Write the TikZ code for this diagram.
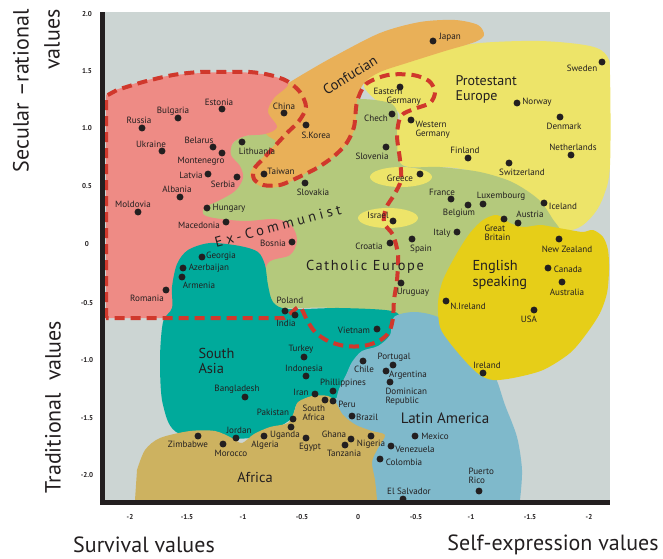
\documentclass[tikz,border=0pt]{standalone}
\usepackage{fontspec}
\setmainfont{PT Sans}
\usetikzlibrary{positioning}

\definecolor{bggray}{RGB}{204,213,211}
\definecolor{expink}{RGB}{238,139,133}
\definecolor{confor}{RGB}{233,176,88}
\definecolor{protyel}{RGB}{237,228,105}
\definecolor{cathgrn}{RGB}{180,201,124}
\definecolor{asiateal}{RGB}{0,170,155}
\definecolor{latblue}{RGB}{127,185,203}
\definecolor{afrtan}{RGB}{205,178,96}
\definecolor{engyel}{RGB}{230,206,24}
\definecolor{dashred}{RGB}{208,56,44}
\definecolor{inkdark}{RGB}{35,31,32}

\tikzset{every picture/.style={line width=0.75pt}}
\tikzset{
  dot/.style={circle,fill=inkdark,inner sep=0pt,minimum size=5.2pt},
  cname/.style={inner sep=0pt,text=inkdark,font=\fontsize{6.8}{6.8}\selectfont},
  cnametwo/.style={cname,align=left,anchor=west},
  region/.style={inner sep=0pt,text=inkdark,font=\fontsize{10.8}{11.3}\selectfont},
  tick/.style={inner sep=0pt,text=inkdark,font=\fontsize{5.3}{6}\selectfont\bfseries},
  axtitle/.style={inner sep=0pt,text=inkdark,font=\fontsize{16.5}{18}\selectfont},
  exline/.style={draw=dashred,line width=3pt,dash pattern=on 7.5pt off 4.5pt},
}

\begin{document}
\begin{tikzpicture}[x=0.75pt,y=0.75pt,yscale=-1,xscale=1]
\path[use as bounding box] (0,0) rectangle (663,558);

%Shape: Rectangle [plot area]
\fill[bggray] (105,12) rectangle (610,500);

%Shape: Protestant Europe
\fill[protyel] plot[smooth cycle,tension=0.55] coordinates {(372,74) (400,62) (440,50) (480,43) (540,41) (590,46) (607,56) (610,75) (610,165) (604,195) (594,214) (578,228) (556,230) (541,206) (508,181) (455,168) (402,165) (396,135) (399,113) (376,100) (364,86)};
%Shape: Catholic Europe
\fill[cathgrn] plot[smooth cycle,tension=0.5] coordinates {(230,150) (240,137) (262,133) (290,118) (320,100) (356,99) (375,100) (392,104) (398,115) (397,135) (402,165) (440,167) (480,172) (512,182) (538,199) (552,218) (562,240) (540,290) (470,332) (430,332) (395,320) (330,308) (275,306) (264,272) (254,252) (230,240) (200,226) (195,205) (225,195) (236,175)};
%Shape: Confucian
\fill[confor] plot[smooth cycle,tension=0.5] coordinates {(266,134) (262,115) (268,97) (287,84) (305,73) (333,57) (380,33) (420,22) (455,20) (478,25) (484,35) (475,42) (445,51) (410,62) (380,72) (364,83) (357,100) (355,127) (347,143) (333,157) (315,168) (297,178) (278,187) (260,186) (250,176) (254,166) (264,156) (276,142)};
%Shape: Ex-Communist
\fill[expink] (106,318) -- (106,95) -- plot[smooth,tension=0.55] coordinates {(110,92) (140,82) (175,75) (230,72) (268,75) (288,84) (274,98) (268,112) (277,127) (265,134) (245,136) (233,143) (231,155) (240,166) (243,178) (235,191) (218,201) (205,207) (203,214) (214,218) (245,221) (275,219) (291,225) (297,240) (290,255) (268,263) (262,290) (258,318)} -- cycle;
%Shape: South Asia
\fill[asiateal] plot[smooth cycle,tension=0.5] coordinates {(163,322) (172,308) (172,287) (177,264) (188,250) (210,243) (240,246) (258,252) (265,265) (268,285) (273,302) (288,309) (340,308) (392,311) (402,322) (398,345) (372,362) (350,395) (300,402) (290,420) (250,438) (180,434) (163,405) (160,360)};
%Shape: Latin America
\fill[latblue] (335,500) -- plot[smooth,tension=0.5] coordinates {(335,405) (339,389) (346,375) (352,362) (362,351) (378,346) (390,335) (394,317) (415,312) (440,318) (468,340) (493,372) (505,405) (517,437) (522,470) (520,500)} -- cycle;
%Shape: Africa
\fill[afrtan] (135,500) -- plot[smooth,tension=0.5] coordinates {(137,470) (145,450) (160,438) (190,431) (215,431) (232,438) (242,443) (254,434) (270,427) (288,423) (294,412) (298,402) (312,396) (328,396) (336,403) (343,415) (356,425) (372,431) (385,435) (378,448) (372,462) (375,480) (377,500)} -- cycle;
%Shape: English speaking
\fill[engyel] plot[smooth cycle,tension=0.5] coordinates {(497,215) (510,223) (523,227) (540,225) (553,227) (570,230) (583,232) (593,230) (603,237) (608,250) (609,270) (607,293) (600,313) (587,333) (570,353) (543,370) (513,378) (493,380) (480,375) (467,363) (450,343) (440,327) (438,303) (443,280) (457,253) (470,233) (483,220)};
%Shape: Greece and Israel
\fill[protyel] (401,177) ellipse [x radius=31,y radius=10];
\fill[protyel] (388,218) ellipse [x radius=30,y radius=10];

%Curve Lines: Ex-Communist border
\draw[exline] (106,318) -- (106,96) -- plot[smooth,tension=0.5] coordinates {(117,90) (143,82) (173,75) (200,72) (227,72) (250,72) (270,75) (287,81) (300,92) (306,107) (299,121) (287,133) (274,147) (263,159) (254,169) (254,179) (263,185) (280,185) (299,177) (317,168) (333,157) (346,144) (354,127) (357,102) (366,84) (388,75) (413,75) (429,81) (435,92) (430,103) (414,109) (401,116) (397,135) (400,160) (401,180) (394,195) (386,208) (384,223) (393,235) (398,255) (397,280) (394,300) (393,318) (389,332) (379,341) (363,346) (345,346) (328,341) (315,332) (307,320) (300,307) (292,312) (284,318)} -- cycle;

%Straight Lines: axes
\fill[inkdark] (100,12) rectangle (105,505);
\fill[inkdark] (100,500) rectangle (610,505);

% Text Node: regions
\node[region,align=left,anchor=west,font=\fontsize{10.5}{11.25}\selectfont] (protestant) at (455,89.5) {Protestant\\Europe};
\node[region,rotate=32] (confucian) at (350,75) {Confucian};
\node[region,rotate=15,font=\fontsize{10.8}{11.3}\selectfont\addfontfeature{LetterSpace=26}] (excomm) at (278,226) {Ex-Communist};
\node[region,font=\fontsize{10.8}{11.3}\selectfont\addfontfeature{LetterSpace=11}] (catholic) at (365,267) {Catholic Europe};
\node[region,align=left,anchor=west,font=\fontsize{10.8}{12}\selectfont] (english) at (472,275) {English\\speaking};
\node[region,align=left,anchor=west,font=\fontsize{10.8}{11.25}\selectfont] (southasia) at (198,360.5) {South\\Asia};
\node[region,font=\fontsize{11.3}{12}\selectfont] (latinam) at (445,418) {Latin America};
\node[region] (africa) at (255,477) {Africa};

% Text Node: countries
\node[dot] (russia) at (142,128) {};
\node[cname] (russia-t) at (139,120) {Russia};
\node[dot] (bulgaria) at (178,118) {};
\node[cname] (bulgaria-t) at (173,111) {Bulgaria};
\node[dot] (estonia) at (222,109) {};
\node[cname] (estonia-t) at (219,102) {Estonia};
\node[dot] (ukraine) at (162,151) {};
\node[cname] (ukraine-t) at (151,144) {Ukraine};
\node[dot] (belarus) at (213,147) {};
\node[cname] (belarus-t) at (199,140) {Belarus};
\node[dot] (montenegro) at (222,153) {};
\node[cname] (montenegro-t) at (201,161) {Montenegro};
\node[dot] (lithuania) at (242,142) {};
\node[cname] (lithuania-t) at (257,151) {Lithuania};
\node[dot] (china) at (284,113) {};
\node[cname] (china-t) at (284,106) {China};
\node[dot] (skorea) at (306,125) {};
\node[cname] (skorea-t) at (316,135) {S.Korea};
\node[dot] (taiwan) at (264,174) {};
\node[cname] (taiwan-t) at (281,171) {Taiwan};
\node[dot] (latvia) at (208,174) {};
\node[cname] (latvia-t) at (191,175) {Latvia};
\node[dot] (serbia) at (237,177) {};
\node[cname] (serbia-t) at (223,184) {Serbia};
\node[dot] (albania) at (180,197) {};
\node[cname] (albania-t) at (177,189) {Albania};
\node[dot] (moldovia) at (138,212) {};
\node[cname] (moldovia-t) at (133,204) {Moldovia};
\node[dot] (hungary) at (207,208) {};
\node[cname] (hungary-t) at (229,208) {Hungary};
\node[dot] (macedonia) at (226,222) {};
\node[cname] (macedonia-t) at (199,225) {Macedonia};
\node[dot] (bosnia) at (292,242) {};
\node[cname] (bosnia-t) at (273,243) {Bosnia};
\node[dot] (georgia) at (202,257) {};
\node[cname] (georgia-t) at (221,256) {Georgia};
\node[dot] (azerbaijan) at (183,268) {};
\node[cname] (azerbaijan-t) at (209,268) {Azerbaijan};
\node[dot] (armenia) at (182,277) {};
\node[cname] (armenia-t) at (199,285) {Armenia};
\node[dot] (romania) at (166,290) {};
\node[cname] (romania-t) at (147,298) {Romania};
\node[dot] (poland) at (285,311) {};
\node[cname] (poland-t) at (290,300) {Poland};
\node[dot] (india) at (295,315) {};
\node[cname] (india-t) at (286,323) {India};
\node[dot] (japan) at (433,41) {};
\node[cname] (japan-t) at (450,37) {Japan};
\node[dot] (sweden) at (602,62) {};
\node[cname] (sweden-t) at (582,68) {Sweden};
\node[dot] (egermany) at (400,87) {};
\node[cnametwo] (egermany-t) at (373,97) {Eastern\\\hspace*{9.75pt}Germany};
\node[dot] (norway) at (517,103) {};
\node[cname] (norway-t) at (537,102) {Norway};
\node[dot] (czech) at (392,114) {};
\node[cname] (czech-t) at (376,118) {Chech};
\node[dot] (wgermany) at (411,120) {};
\node[cnametwo] (wgermany-t) at (415,129.5) {Western\\Germany};
\node[dot] (denmark) at (560,117) {};
\node[cname] (denmark-t) at (564,126) {Denmark};
\node[dot] (netherlands) at (571,155) {};
\node[cname] (netherlands-t) at (573,147) {Netherlands};
\node[dot] (slovenia) at (386,147) {};
\node[cname] (slovenia-t) at (372,156) {Slovenia};
\node[dot] (finland) at (468,158) {};
\node[cname] (finland-t) at (465,150) {Finland};
\node[dot] (switzerland) at (509,163) {};
\node[cname] (switzerland-t) at (522,172) {Switzerland};
\node[dot] (greece) at (420,174) {};
\node[cname] (greece-t) at (400,178) {Greece};
\node[dot] (slovakia) at (305,183) {};
\node[cname] (slovakia-t) at (313,192) {Slovakia};
\node[dot] (israel) at (393,221) {};
\node[cname] (israel-t) at (378,215) {Israel};
\node[dot] (croatia) at (390,243) {};
\node[cname] (croatia-t) at (369,246) {Croatia};
\node[dot] (spain) at (412,239) {};
\node[cname] (spain-t) at (421,249) {Spain};
\node[dot] (uruguay) at (401,283) {};
\node[cname] (uruguay-t) at (413,292) {Uruguay};
\node[dot] (vietnam) at (377,329) {};
\node[cname] (vietnam-t) at (354,330) {Vietnam};
\node[dot] (france) at (451,199) {};
\node[cname] (france-t) at (442,192) {France};
\node[dot] (belgium) at (468,205) {};
\node[cname] (belgium-t) at (459,213) {Belgium};
\node[dot] (luxembourg) at (483,204) {};
\node[cname] (luxembourg-t) at (501,196) {Luxembourg};
\node[dot] (iceland) at (544,203) {};
\node[cname] (iceland-t) at (563,206) {Iceland};
\node[dot] (austria) at (518,223) {};
\node[cname] (austria-t) at (530,214) {Austria};
\node[dot] (gbritain) at (504,219) {};
\node[cnametwo] (gbritain-t) at (484,232.5) {Great\\Britain};
\node[dot] (italy) at (457,232) {};
\node[cname] (italy-t) at (442,233) {Italy};
\node[dot] (nzealand) at (559,239) {};
\node[cname] (nzealand-t) at (567,249) {New Zealand};
\node[dot] (canada) at (548,268) {};
\node[cname] (canada-t) at (568,269) {Canada};
\node[dot] (australia) at (562,282) {};
\node[cname] (australia-t) at (567,292) {Australia};
\node[dot] (nireland) at (446,301) {};
\node[cname] (nireland-t) at (468,306) {N.Ireland};
\node[dot] (usa) at (534,310) {};
\node[cname] (usa-t) at (529,319) {USA};
\node[dot] (turkey) at (304,357) {};
\node[cname] (turkey-t) at (301,349) {Turkey};
\node[dot] (indonesia) at (306,376) {};
\node[cname] (indonesia-t) at (304,368) {Indonesia};
\node[dot] (philippines) at (333,391) {};
\node[cname] (philippines-t) at (343,383) {Phillippines};
\node[dot] (iran) at (315,394) {};
\node[cname] (iran-t) at (301,392) {Iran};
\node[dot] (bangladesh) at (245,397) {};
\node[cname] (bangladesh-t) at (237,389) {Bangladesh};
\node[dot] (safrica) at (325,400) {};
\node[cnametwo] (safrica-t) at (302,412.5) {South\\Africa};
\node[dot] (peru) at (333,401) {};
\node[cname] (peru-t) at (347,404) {Peru};
\node[dot] (pakistan) at (293,419) {};
\node[cname] (pakistan-t) at (273,412) {Pakistan};
\node[dot] (brazil) at (352,416) {};
\node[cname] (brazil-t) at (367,417) {Brazil};
\node[dot] (uganda) at (291,427) {};
\node[cname] (uganda-t) at (285,435) {Uganda};
\node[dot] (jordan) at (236,438) {};
\node[cname] (jordan-t) at (239,430) {Jordan};
\node[dot] (zimbabwe) at (198,436) {};
\node[cname] (zimbabwe-t) at (188,444) {Zimbabwe};
\node[dot] (algeria) at (264,436) {};
\node[cname] (algeria-t) at (265,445) {Algeria};
\node[dot] (egypt) at (306,438) {};
\node[cname] (egypt-t) at (310,447) {Egypt};
\node[dot] (morocco) at (223,444) {};
\node[cname] (morocco-t) at (231,453) {Morocco};
\node[dot] (ghana) at (351,439) {};
\node[cname] (ghana-t) at (334,434) {Ghana};
\node[dot] (tanzania) at (345,445) {};
\node[cname] (tanzania-t) at (344,453) {Tanzania};
\node[dot] (nigeria) at (371,436) {};
\node[cname] (nigeria-t) at (371,444) {Nigeria};
\node[dot] (chile) at (363,361) {};
\node[cname] (chile-t) at (364,369) {Chile};
\node[dot] (portugal) at (393,365) {};
\node[cname] (portugal-t) at (394,357) {Portugal};
\node[dot] (argentina) at (386,371) {};
\node[cname] (argentina-t) at (408,375) {Argentina};
\node[dot] (dominican) at (390,382) {};
\node[cnametwo] (dominican-t) at (385,396.5) {Dominican\\Republic};
\node[dot] (mexico) at (415,436) {};
\node[cname] (mexico-t) at (435,436) {Mexico};
\node[dot] (venezuela) at (391,446) {};
\node[cname] (venezuela-t) at (415,449) {Venezuela};
\node[dot] (colombia) at (380,459) {};
\node[cname] (colombia-t) at (404,462) {Colombia};
\node[dot] (puertorico) at (479,491) {};
\node[cnametwo] (puertorico-t) at (468,475.5) {Puerto\\Rico};
\node[dot] (elsalvador) at (403,499) {};
\node[cname] (elsalvador-t) at (409,491) {El Salvador};
\node[dot] (ireland) at (483,373) {};
\node[cname] (ireland-t) at (487,365) {Ireland};

% Text Node: tick labels
\node[tick] (ty1) at (87,14) {2.0};
\node[tick] (ty2) at (87,71) {1.5};
\node[tick] (ty3) at (87,128) {1.0};
\node[tick] (ty4) at (87,186) {0.5};
\node[tick] (ty5) at (87,244) {0};
\node[tick] (ty6) at (87,303) {-0.5};
\node[tick] (ty7) at (87,360) {-1.0};
\node[tick] (ty8) at (87,418) {-1.5};
\node[tick] (ty9) at (87,475) {-2.0};
\node[tick] (tx1) at (130,517) {-2};
\node[tick] (tx2) at (187,517) {-1.5};
\node[tick] (tx3) at (243,517) {-1};
\node[tick] (tx4) at (302,517) {-0.5};
\node[tick] (tx5) at (358,517) {0};
\node[tick] (tx6) at (416,517) {-0.5};
\node[tick] (tx7) at (471,517) {-1};
\node[tick] (tx8) at (530,517) {-1.5};
\node[tick] (tx9) at (589,517) {-2};

% Text Node: axis titles
\node[axtitle,rotate=90,anchor=east] (secular) at (21,9) {Secular –rational};
\node[axtitle,rotate=90,anchor=east] (secular2) at (52,9) {values};
\node[axtitle,rotate=90] (traditional) at (53,407) {Traditional\ \ values};
\node[axtitle] (survival) at (144,545) {Survival values};
\node[axtitle] (selfexp) at (553,545) {Self-expression values};

\end{tikzpicture}
\end{document}
